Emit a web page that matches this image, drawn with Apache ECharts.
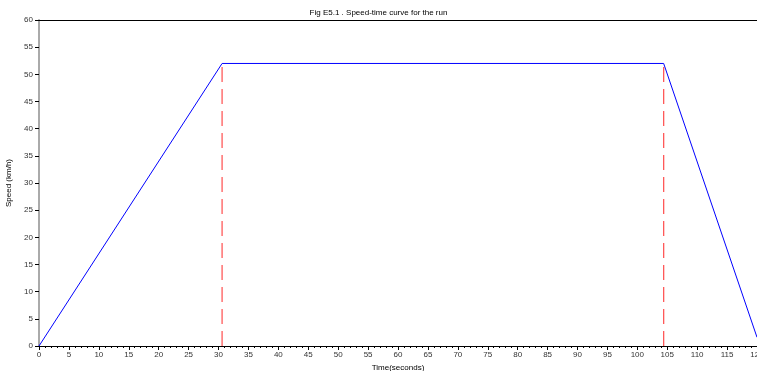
<!DOCTYPE html>
<html>
<head>
<meta charset="utf-8">
<script src="https://cdn.jsdelivr.net/npm/echarts@6/dist/echarts.min.js"></script>
<style>
  html, body { margin: 0; padding: 0; background: #fff; }
  #main { width: 757px; height: 371px; }
</style>
</head>
<body>
<div id="main"></div>
<script>
// speed-time curve: accelerate, free run, brake
var runTimes = [0, 30.6, 104.4, 120];
var runSpeeds = [0, 52, 52, 1.6];
// red markers at end of acceleration and start of braking
var markerTimes = [30.6, 104.4];
var markerSpeed = 52;

var chart = echarts.init(document.getElementById('main'));

var runData = runTimes.map(function (t, i) { return [t, runSpeeds[i]]; });

var series = [{
  type: 'line',
  data: runData,
  showSymbol: false,
  symbol: 'none',
  lineStyle: { color: '#0000ff', width: 1 },
  z: 3
}];
markerTimes.forEach(function (t) {
  series.push({
    type: 'line',
    data: [[t, 0], [t, markerSpeed]],
    symbol: 'none',
    lineStyle: { color: '#ff3030', width: 1.3, type: [15, 7], opacity: 0.8 },
    z: 2
  });
});

var option = {
  animation: false,
  backgroundColor: '#fff',
  title: {
    text: 'Fig E5.1 . Speed-time curve for the run',
    left: 'center',
    top: 4,
    textStyle: { fontSize: 8, fontWeight: 'normal', color: '#000', fontFamily: 'Liberation Sans' }
  },
  grid: { left: 39, right: 0, top: 20, bottom: 25, outerBoundsMode: 'none', containLabel: false },
  xAxis: [{
    type: 'value',
    min: 0,
    max: 120,
    interval: 5,
    name: 'Time(seconds)',
    nameLocation: 'middle',
    nameGap: 15,
    nameTextStyle: { fontSize: 8, color: '#000', fontFamily: 'Liberation Sans' },
    axisLine: { lineStyle: { color: '#000', width: 1 } },
    axisTick: { length: 4, lineStyle: { color: '#000' } },
    minorTick: { show: true, splitNumber: 5, length: 2, lineStyle: { color: '#000' } },
    axisLabel: { fontSize: 8, color: '#333', margin: 5, fontFamily: 'Liberation Sans' },
    splitLine: { show: false }
  }, {
    type: 'value',
    position: 'top',
    min: 0,
    max: 120,
    axisLine: { show: true, lineStyle: { color: '#000', width: 1 } },
    axisTick: { show: false },
    axisLabel: { show: false },
    splitLine: { show: false }
  }],
  yAxis: {
    type: 'value',
    min: 0,
    max: 60,
    interval: 5,
    name: 'Speed (km/h)',
    nameLocation: 'middle',
    nameGap: 23,
    nameTextStyle: { fontSize: 8, color: '#000', fontFamily: 'Liberation Sans' },
    axisLine: { show: true, lineStyle: { color: '#aaa', width: 2 } },
    axisTick: { show: true, length: 4, lineStyle: { color: '#000' } },
    axisLabel: { fontSize: 8, color: '#333', margin: 6, fontFamily: 'Liberation Sans' },
    splitLine: { show: false }
  },
  series: series
};
chart.setOption(option);
</script>
</body>
</html>
